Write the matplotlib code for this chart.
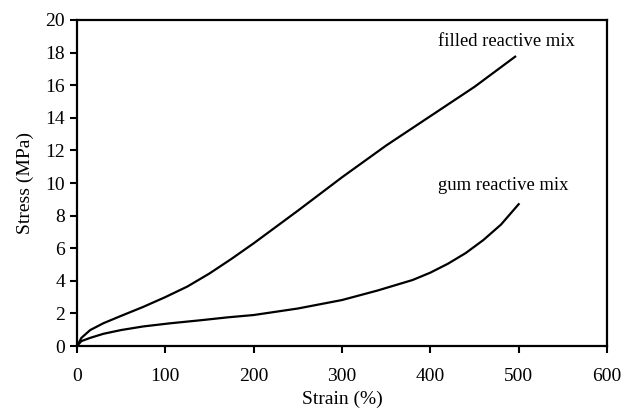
import matplotlib
matplotlib.use("Agg")
import matplotlib.pyplot as plt
import numpy as np

# stress-strain curves
filled_strain = [0, 5, 15, 30, 50, 75, 100, 125, 150, 175, 200, 250, 300, 350, 400, 450, 496]
filled_stress = [0, 0.5, 0.98, 1.4, 1.85, 2.4, 3.0, 3.65, 4.45, 5.35, 6.3, 8.3, 10.35, 12.3, 14.1, 15.9, 17.75]

gum_strain = [0, 5, 15, 30, 50, 75, 105, 140, 171, 200, 250, 300, 340, 380, 400, 420, 440, 460, 480, 500]
gum_stress = [0, 0.3, 0.5, 0.75, 0.98, 1.2, 1.39, 1.58, 1.76, 1.9, 2.3, 2.82, 3.4, 4.05, 4.5, 5.05, 5.7, 6.5, 7.45, 8.7]

x_ticks = [0, 100, 200, 300, 400, 500, 600]
y_ticks = [0, 2, 4, 6, 8, 10, 12, 14, 16, 18, 20]

plt.rcParams['font.family'] = ['Liberation Serif', 'DejaVu Serif']

fig = plt.figure(figsize=(6.25, 4.11), dpi=100)
ax = fig.add_axes([77/625, 65/411, 530/625, 326/411])

ax.plot(filled_strain, filled_stress, color='black', lw=1.6)
ax.plot(gum_strain, gum_stress, color='black', lw=1.6)

ax.text(409, 18.7, "filled reactive mix", fontsize=13.4, va='center', ha='left')
ax.text(409, 9.87, "gum reactive mix", fontsize=13.4, va='center', ha='left')

ax.set_xlim(0, 600)
ax.set_ylim(0, 20)
ax.set_xticks(x_ticks)
ax.set_yticks(y_ticks)
ax.tick_params(axis='both', labelsize=14, width=1.5, length=5, direction='out', colors='black')
ax.tick_params(axis='x', pad=11)
for s in ax.spines.values():
    s.set_linewidth(1.6)

ax.set_xlabel("Strain (%)", fontsize=14, labelpad=4)
ax.set_ylabel("Stress (MPa)", fontsize=14, labelpad=8)

fig.savefig("out.png", dpi=100)
